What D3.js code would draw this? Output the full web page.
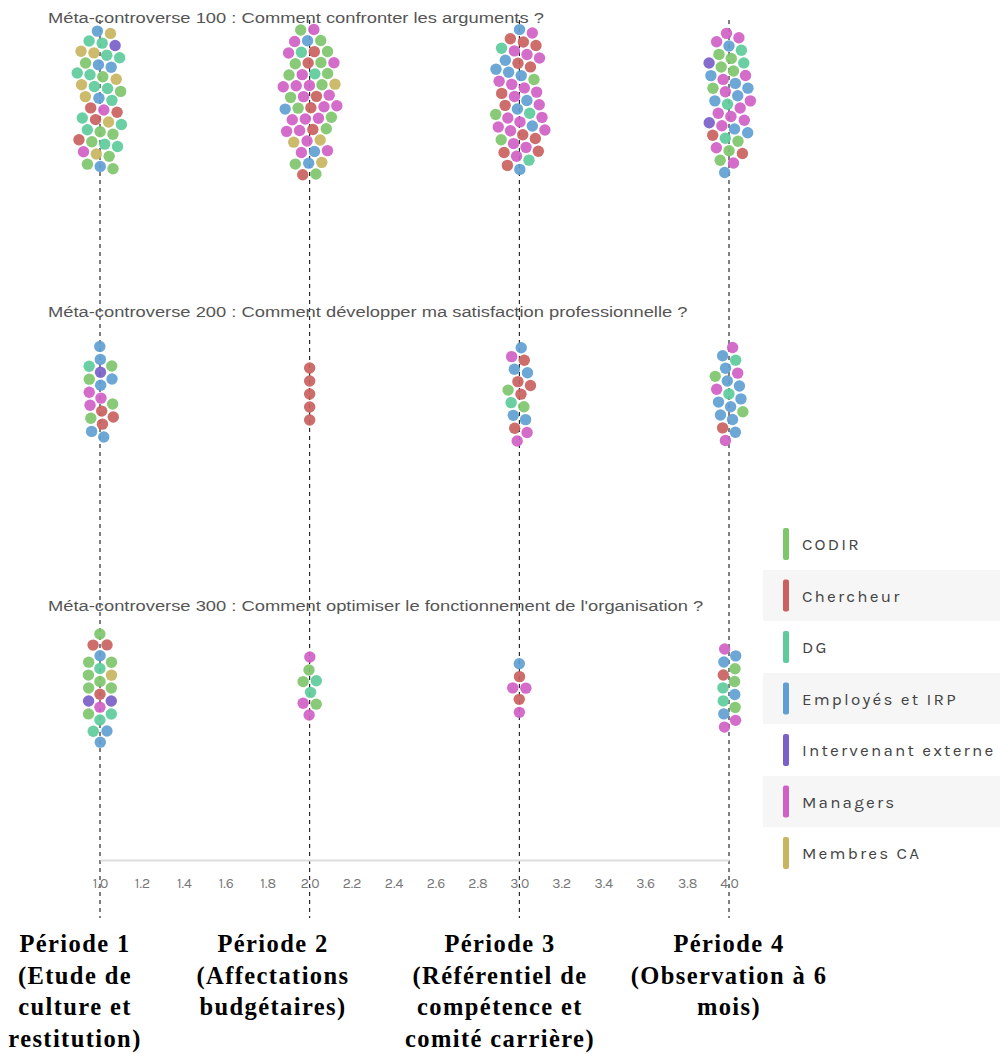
<!DOCTYPE html>
<html><head><meta charset="utf-8">
<script src="https://cdn.jsdelivr.net/npm/d3@7"></script>
<style>body{margin:0;background:#fff} svg{display:block}</style>
</head><body><svg id="c" width="1000" height="1054"></svg>
<script>
// ---------- DATA ----------
const categories = ["CODIR","Chercheur","DG","Employés et IRP","Intervenant externe","Managers","Membres CA"];
const catCodes   = ["C","R","D","E","I","M","A"];
const catColors  = ["#7ec66b","#c9615f","#5ecb9c","#5f9fd3","#7a5fc8","#d05fc6","#c8b560"];
const periods = [1,2,3,4];
const controversies = ["100","200","300"];
const titles = [
  "Méta-controverse 100 : Comment confronter les arguments ?",
  "Méta-controverse 200 : Comment développer ma satisfaction professionnelle ?",
  "Méta-controverse 300 : Comment optimiser le fonctionnement de l'organisation ?"
];
const periodLabels = [
  ["Période 1","(Etude de","culture et","restitution)"],
  ["Période 2","(Affectations","budgétaires)"],
  ["Période 3","(Référentiel de","compétence et","comité carrière)"],
  ["Période 4","(Observation à 6","mois)"]
];
const xTicks = [1.0,1.2,1.4,1.6,1.8,2.0,2.2,2.4,2.6,2.8,3.0,3.2,3.4,3.6,3.8,4.0];
// participants (category codes, read top to bottom) per controversy & period
const mc100 = [
  ["EA","DID","ADA","DECE","DCA","DDDA","CAE","DRRM","RDD","ACDC","CDD","RCA","MCC","E"].join(""),
  ["C","MM","CED","CMR","CCMR","DCC","CMM","AMMM","C","MM","CM","ERR","M","C","MM","CM","ARM","M","AM","E","CA","M","EC","R"].join(""),
  ["EM","RR","RMM","DMRE","REE","CEMM","MMRM","ERME","MMCD","MMMM","RECR","MMR","RMD","RE"].join(""),
  ["M","MM","DEC","DI","CCC","MME","EEEM","CMED","MMM","MME","IE","DRC","MCR","CM","E"].join("")
];
const mc200 = [
  ["E","ED","CI","CEM","EM","MCR","CR","ER","E"].join(""),
  "RRRRR",
  ["E","RME","ERR","CRC","DEE","R","M","M"].join(""),
  ["M","D","EM","E","CE","M","ED","E","EE","E","C","E","E","R","M"].join("")
];
const mc300 = [
  ["C","R","R","CE","C","AC","D","CC","C","RM","I","ID","D","CE","D","E"].join(""),
  "MCCDDMCM",
  "ERMMRM",
  "MEECRDCDECEMM"
];
const participants = [mc100, mc200, mc300];

// ---------- CHART ----------
const svg = d3.select("#c");
const font = "Karla, 'Noto Sans', 'DejaVu Sans', sans-serif";
const x = d3.scaleLinear().domain([1,4]).range([100,729]);
const y = d3.scalePoint().domain(controversies).range([100,688]);
const color = d3.scaleOrdinal().domain(catCodes).range(catColors);
const R = 5.7;

// dashed period lines
svg.append("g").selectAll("line").data(periods).join("line")
  .attr("x1", d=>x(d)).attr("x2", d=>x(d)).attr("y1", 20).attr("y2", 918)
  .attr("stroke","#000").attr("stroke-width",1).attr("stroke-dasharray","4,4");

// titles
svg.append("g").selectAll("text").data(titles).join("text")
  .attr("transform",(d,i)=>`translate(48,${y(controversies[i]) - 77}) scale(1.31,1)`)
  .attr("font-family","'Liberation Sans', Arial, sans-serif").attr("font-size",14)
  .attr("fill","#555").text(d=>d);

// nodes via force layout
const nodesAll = [];
participants.forEach((row, ci) => {
  row.forEach((str, pi) => {
    const list = str.split("");
    const n = list.length;
    const cx = x(periods[pi]), cy = y(controversies[ci]);
    const b = 11.5*Math.sqrt(n), a = 4.2*Math.sqrt(n);
    const nodes = list.map((c,i)=>{
      const t = (i+0.5)/n*2-1;
      return {cat:c,
        x: cx + (n>5 ? a*0.9*Math.sqrt(1-t*t)*Math.sin(i*2.39996) : 0),
        y: cy + t*b};
    });
    const ky = n <= 8 ? 0.022 : (n < 30 ? 0.032 : 0.042);
    const sim = d3.forceSimulation(nodes)
      .force("x", d3.forceX(cx).strength(0.3))
      .force("y", d3.forceY(cy).strength(ky))
      .force("c", d3.forceCollide(6.5).iterations(4))
      .alpha(0.3).alphaDecay(0).stop();
    for (let k=0;k<800;k++) sim.tick();
    nodesAll.push(...nodes);
  });
});
svg.append("g").selectAll("circle").data(nodesAll).join("circle")
  .attr("cx",d=>d.x).attr("cy",d=>d.y).attr("r",R)
  .attr("fill",d=>color(d.cat)).attr("fill-opacity",0.92);

// axis
const ax = svg.append("g").attr("transform","translate(0,860)")
  .call(d3.axisBottom(x).tickValues(xTicks).tickFormat(d3.format(".1f")).tickSize(0).tickPadding(18));
ax.select(".domain").attr("stroke","#ddd").attr("stroke-width",2);
ax.selectAll("text").attr("font-family",font).attr("font-size",14).attr("fill","#777");

// legend
const leg = svg.append("g");
const lg = leg.selectAll("g").data(categories).join("g")
  .attr("transform",(d,i)=>`translate(763,${544 + i*51.5})`);
lg.filter((d,i)=>i%2===1).append("rect").attr("x",0).attr("y",-25.5).attr("width",237).attr("height",51).attr("fill","#f6f6f6");
lg.append("rect").attr("x",20).attr("y",-16).attr("width",6).attr("height",32).attr("rx",2)
  .attr("fill",(d,i)=>catColors[i]);
lg.append("text").attr("x",39).attr("y",6).attr("font-family",font).attr("font-size",17)
  .attr("letter-spacing",2.2).attr("fill","#444").text(d=>d);

// period labels
const labelX = [75, 273, 500, 729];
const pl = svg.append("g").selectAll("text").data(periodLabels).join("text")
  .attr("text-anchor","middle")
  .attr("font-family","'Liberation Serif','Times New Roman',serif").attr("font-weight","bold")
  .attr("font-size",24.5).attr("letter-spacing",1.4).attr("fill","#000");
pl.each(function(lines,i){
  d3.select(this).selectAll("tspan").data(lines).join("tspan")
    .attr("x",labelX[i]).attr("y",(d,j)=>952 + j*31.5).text(d=>d);
});
</script>
</body></html>
